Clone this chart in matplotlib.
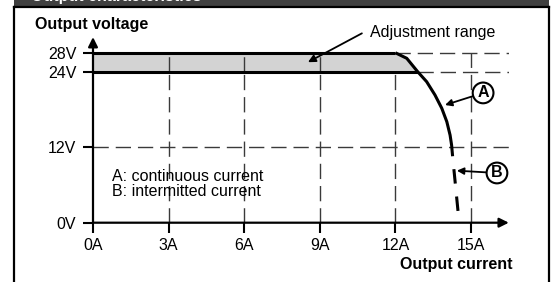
import matplotlib
matplotlib.use("Agg")
import matplotlib.pyplot as plt
from matplotlib.patches import Rectangle, Polygon
from matplotlib.lines import Line2D

plt.rcParams['font.family'] = ['Liberation Sans', 'DejaVu Sans']

# ---- data ----
x_ticks = [0, 3, 6, 9, 12, 15]
x_labels = ['0A', '3A', '6A', '9A', '12A', '15A']
y_ticks = [0, 12, 24.1, 27.1]
y_labels = ['0V', '12V', '24V', '28V']
v_high = 27.1          # upper end of adjustment range (28V)
v_low = 24.1           # lower end of adjustment range (24V)
i_knee_high = 12.0     # knee current at 28V
i_knee_low = 12.88     # knee current at 24V
curve_i = [12.0, 12.45, 12.88, 13.24, 13.57, 13.84, 14.04, 14.17, 14.23, 14.27]
curve_v = [27.1, 26.22, 24.1, 22.49, 20.37, 18.25, 16.11, 13.97, 12.38, 10.6]
interm_i = [14.27, 14.53]
interm_v = [10.6, 0.0]
grid_x = [3, 6, 9, 12, 15]
x_max = 16.5
y_max = 29.6

W, H = 555, 282
fig = plt.figure(figsize=(W / 100, H / 100), dpi=100)

def fx(px):
    return px / W

def fy(py):
    return 1 - py / H

# header band and frame
fig.add_artist(Rectangle((fx(14), fy(7)), fx(549) - fx(14), fy(0) - fy(7),
                         transform=fig.transFigure, facecolor='#404040',
                         edgecolor='none'))
fig.text(fx(31), fy(0.6), 'Output characteristics', color='white',
         fontsize=11.5, fontweight='bold', va='baseline', ha='left')
for (x0, y0, x1, y1) in [(14, 7, 549, 7), (14, 7, 14, 282), (549, 7, 549, 282)]:
    fig.add_artist(Line2D([fx(x0), fx(x1)], [fy(y0), fy(y1)],
                          transform=fig.transFigure, color='black', lw=1.6))

# axes
ax_left, ax_bottom = 93, 222.7
ax_w = x_max * 25.2
ax_h = y_max * 6.27
ax = fig.add_axes([fx(ax_left), fy(ax_bottom), ax_w / W, ax_h / H])
ax.set_xlim(0, x_max)
ax.set_ylim(0, y_max)
for s in ax.spines.values():
    s.set_visible(False)
ax.patch.set_alpha(0)

ax.set_xticks(x_ticks)
ax.set_xticklabels(x_labels)
ax.set_yticks(y_ticks)
ax.set_yticklabels(y_labels)
ax.tick_params(axis='both', direction='out', length=7, width=1.5,
               labelsize=11.5, colors='black')
ax.tick_params(axis='x', pad=4)
ax.tick_params(axis='y', pad=5)

gc = '#3a3a3a'
dash = (11, 5)
# grid lines
for gx in grid_x:
    ax.plot([gx, gx], [0, v_high], color=gc, lw=1, dashes=dash, zorder=1)
ax.plot([0, x_max], [12, 12], color=gc, lw=1, dashes=dash, zorder=1)
ax.plot([i_knee_high, x_max], [v_high, v_high], color=gc, lw=1, dashes=dash, zorder=1)
ax.plot([i_knee_low, x_max], [v_low, v_low], color=gc, lw=1, dashes=dash, zorder=1)

# adjustment band
band_pts = [(0, v_high), (i_knee_high, v_high)]
band_pts += [(ci, cv) for ci, cv in zip(curve_i, curve_v) if cv >= v_low]
band_pts += [(0, v_low)]
ax.add_patch(Polygon(band_pts, closed=True, facecolor='#d3d3d3',
                     edgecolor='none', zorder=1.5))
for gx in grid_x[:3]:
    ax.plot([gx, gx], [v_low, v_high], color=gc, lw=1, dashes=dash, zorder=1.6)

# characteristic lines
ax.plot([0, i_knee_high], [v_high, v_high], color='black', lw=2.2,
        solid_capstyle='butt', zorder=3)
ax.plot([0, i_knee_low], [v_low, v_low], color='black', lw=2.2,
        solid_capstyle='butt', zorder=3)
ax.plot(curve_i, curve_v, color='black', lw=2.2, solid_capstyle='butt',
        solid_joinstyle='round', zorder=3)
ax.plot(interm_i, interm_v, color='black', lw=2.2, zorder=3,
        linestyle=(4.74, (4.74, 4.25)), dash_capstyle='butt')

# axis arrows
ax.annotate('', xy=(x_max, 0), xytext=(0, 0), annotation_clip=False,
            arrowprops=dict(arrowstyle='-|>', lw=1.6, color='black',
                            mutation_scale=14, shrinkA=0, shrinkB=0), zorder=4)
ax.annotate('', xy=(0, y_max), xytext=(0, 0), annotation_clip=False,
            arrowprops=dict(arrowstyle='-|>', lw=1.6, color='black',
                            mutation_scale=14, shrinkA=0, shrinkB=0), zorder=4)

# axis titles
fig.text(fx(35), fy(24), 'Output voltage', fontsize=11.5, fontweight='bold',
         ha='left', va='center')
fig.text(fx(513), fy(264), 'Output current', fontsize=11.5, fontweight='bold',
         ha='right', va='center')

# legend text
ax.text(0.76, 7.3, 'A: continuous current', fontsize=11.5, ha='left', va='center')
ax.text(0.76, 4.9, 'B: intermitted current', fontsize=11.5, ha='left', va='center')

# callouts
circ = dict(boxstyle='circle,pad=0.18', fc='white', ec='black', lw=1.5)
ax.annotate('A', xy=(13.97, 18.77), xytext=(15.48, 20.7), fontsize=11.5,
            fontweight='bold', ha='center', va='center', bbox=circ,
            annotation_clip=False,
            arrowprops=dict(arrowstyle='-|>', lw=1.3, color='black',
                            mutation_scale=10, shrinkA=0, shrinkB=0))
ax.annotate('B', xy=(14.44, 8.3), xytext=(16.03, 7.93), fontsize=11.5,
            fontweight='bold', ha='center', va='center', bbox=circ,
            annotation_clip=False,
            arrowprops=dict(arrowstyle='-|>', lw=1.3, color='black',
                            mutation_scale=10, shrinkA=0, shrinkB=0))

# adjustment range label
ax.text(10.99, 30.4, 'Adjustment range', fontsize=11.5, ha='left', va='center')
ax.annotate('', xy=(8.53, 25.6), xytext=(10.67, 30.2), annotation_clip=False,
            arrowprops=dict(arrowstyle='-|>', lw=1.3, color='black',
                            mutation_scale=11, shrinkA=0, shrinkB=0))

fig.savefig('out.png', dpi=100)
